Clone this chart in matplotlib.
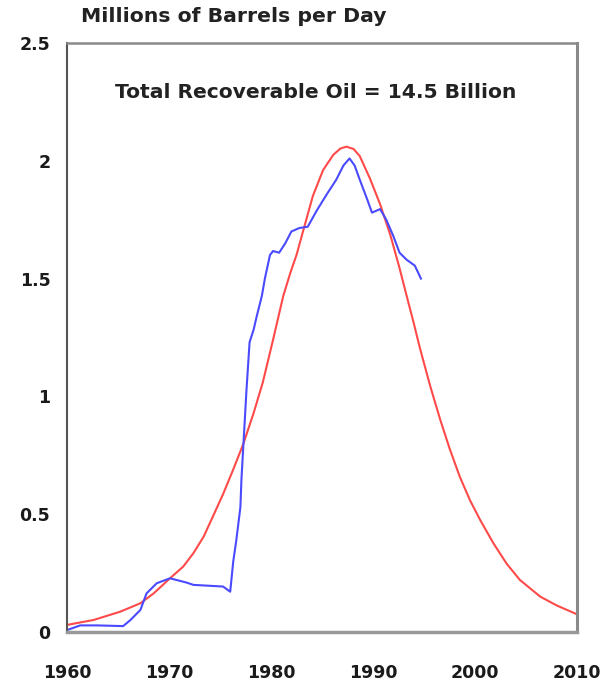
import matplotlib
matplotlib.use("Agg")
import matplotlib.pyplot as plt

# Fitted (Hubbert) curve
red_years = [1960, 1962.6, 1965.2, 1967.2, 1968.5, 1970.1, 1971.4, 1972.4, 1973.4, 1974.3,
             1975.3, 1976.3, 1977.3, 1978.3, 1979.2, 1980.2, 1981.2, 1981.9, 1982.5, 1983.2,
             1984.1, 1985.1, 1986.1, 1986.8, 1987.4, 1988.1, 1988.7, 1989.7, 1990.7, 1991.7,
             1992.6, 1993.1, 1994.0, 1994.6, 1995.6, 1996.6, 1997.5, 1998.5, 1999.5, 2000.5,
             2001.8, 2003.1, 2004.4, 2006.4, 2008.0, 2010]
red_values = [0.03, 0.051, 0.086, 0.122, 0.164, 0.228, 0.278, 0.335, 0.405, 0.49,
              0.585, 0.69, 0.80, 0.93, 1.06, 1.24, 1.426, 1.525, 1.60, 1.71,
              1.85, 1.96, 2.025, 2.052, 2.06, 2.05, 2.02, 1.925, 1.815, 1.685,
              1.545, 1.46, 1.31, 1.205, 1.045, 0.90, 0.78, 0.66, 0.56, 0.476,
              0.377, 0.29, 0.221, 0.15, 0.113, 0.075]

# Actual production
blue_years = [1960, 1961.3, 1963, 1965.5, 1966.2, 1967.2, 1967.8, 1968.8, 1970.1, 1971.7,
              1972.4, 1975.3, 1976.0, 1976.3, 1976.6, 1977.0, 1977.1, 1977.3, 1977.6, 1977.9,
              1978.3, 1978.6, 1979.1, 1979.4, 1979.9, 1980.2, 1980.8, 1981.4, 1982.0, 1982.8,
              1983.6, 1984.5, 1985.5, 1986.4, 1987.1, 1987.7, 1988.2, 1988.7, 1989.4, 1989.9,
              1990.7, 1991.3, 1992.0, 1992.6, 1993.3, 1994.1, 1994.7]
blue_values = [0.008, 0.028, 0.028, 0.025, 0.05, 0.094, 0.164, 0.207, 0.228, 0.21,
               0.20, 0.193, 0.171, 0.30, 0.39, 0.53, 0.646, 0.80, 1.03, 1.23,
               1.284, 1.34, 1.426, 1.50, 1.60, 1.617, 1.61, 1.65, 1.70, 1.715,
               1.72, 1.79, 1.86, 1.92, 1.98, 2.01, 1.98, 1.92, 1.84, 1.78,
               1.795, 1.75, 1.68, 1.61, 1.58, 1.555, 1.50]

x_ticks = [1960, 1970, 1980, 1990, 2000, 2010]
y_ticks = [0, 0.5, 1, 1.5, 2, 2.5]
y_labels = ["0", "0.5", "1", "1.5", "2", "2.5"]

plt.rcParams['font.family'] = ['DejaVu Sans']

fig = plt.figure(figsize=(6.03, 6.87), dpi=100)
ax = fig.add_axes([67/603, 1 - 632/687, (577 - 67)/603, (632 - 43)/687])

ax.plot(red_years, red_values, color='#ff4a4a', lw=1.5, solid_joinstyle='round')
ax.plot(blue_years, blue_values, color='#4a4aff', lw=1.5, solid_joinstyle='round')

ax.set_xlim(1960, 2010)
ax.set_ylim(0, 2.5)
ax.set_xticks(x_ticks)
ax.set_xticklabels([str(x) for x in x_ticks], fontsize=12.5, fontweight='bold', color='#1a1a1a')
ax.set_yticks(y_ticks)
ax.set_yticklabels(y_labels, fontsize=12.5, fontweight='bold', color='#1a1a1a')
ax.tick_params(axis='both', length=0)
ax.tick_params(axis='x', pad=23)
ax.tick_params(axis='y', pad=12)

ax.spines['left'].set_color('#555555')
ax.spines['left'].set_linewidth(1.5)
ax.spines['top'].set_color('#8a8a8a')
ax.spines['top'].set_linewidth(1.8)
ax.spines['right'].set_color('#8a8a8a')
ax.spines['right'].set_linewidth(2.2)
ax.spines['bottom'].set_color('#999999')
ax.spines['bottom'].set_linewidth(2.5)

fig.text(81/603, 1 - 17/687, "Millions of Barrels per Day", fontsize=14.7, fontweight='bold',
         ha='left', va='center', color='#222222')
ax.text((316 - 67)/510, 1 - (92 - 43)/589, "Total Recoverable Oil = 14.5 Billion",
        transform=ax.transAxes, fontsize=14.6, fontweight='bold',
        ha='center', va='center', color='#222222')

fig.savefig("out.png", dpi=100, facecolor='white')
